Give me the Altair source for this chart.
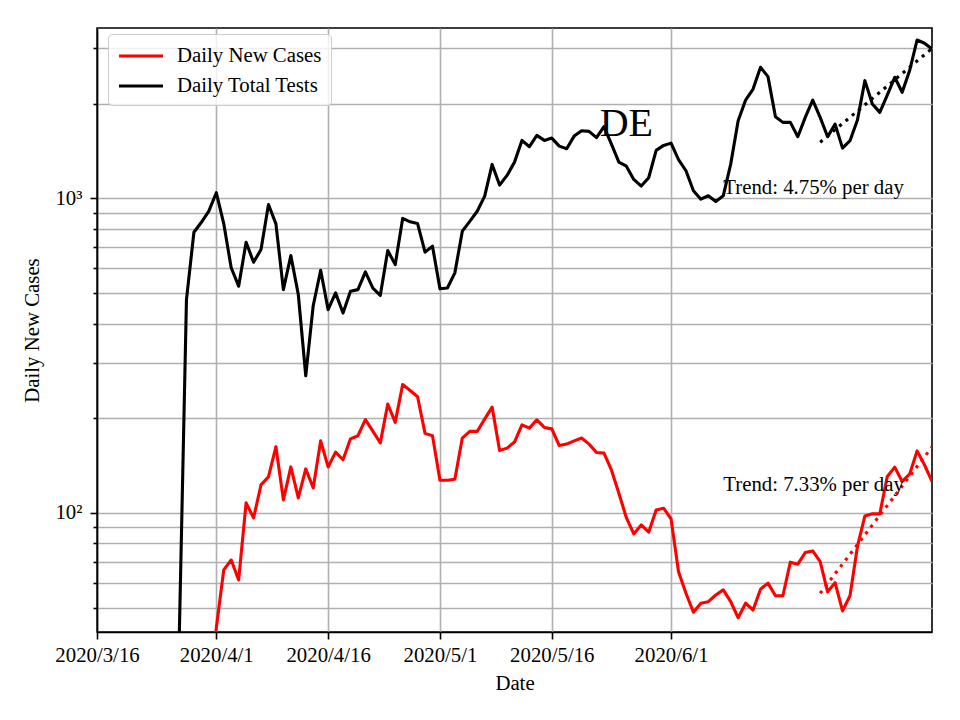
import altair as alt
import pandas as pd

# ---------------- data ----------------
tests_start = "2020-03-27"
tests_values = [
    37, 477, 781, 840, 911, 1043, 832, 602, 526, 726, 627, 688, 957, 830, 513,
    658, 495, 273, 456, 591, 443, 501, 432, 507, 513, 584, 519, 492, 683, 616,
    864, 843, 832, 675, 705, 516, 519, 580, 787, 846, 911, 1017, 1283, 1103,
    1184, 1305, 1530, 1461, 1587, 1530, 1556, 1467, 1440, 1579, 1643, 1635,
    1561, 1692, 1490, 1305, 1267, 1150, 1095, 1164, 1422, 1475, 1500, 1330,
    1225, 1058, 995, 1020, 978, 1020, 1286, 1768, 2056, 2229, 2614, 2441, 1820,
    1746, 1746, 1572, 1811, 2056, 1811, 1572, 1724, 1446, 1527, 1776, 2370,
    1997, 1879, 2133, 2429, 2176, 2551, 3192, 3116, 2988,
]

cases_start = "2020-03-31"
cases_values = [
    25, 43, 65.9, 70.8, 61.2, 107.6, 96.4, 122.8, 130.3, 162.4, 110, 140, 111.6,
    138, 120, 169.5, 140, 156, 147.6, 172, 176, 198, 182, 167, 222, 194, 256,
    245, 234, 179, 176, 127, 127, 128, 173, 181.6, 181.6, 198.7, 217, 158,
    160.7, 168, 190.6, 186, 197.7, 187, 185, 163.8, 165.5, 169.5, 173, 165.5,
    155.6, 154.9, 137, 115.5, 96.6, 85.7, 91.6, 86.8, 102.2, 103.5, 95.7, 65,
    55.5, 48.3, 51.6, 52.2, 54.8, 56.9, 52.2, 46.4, 51.6, 49.1, 57.2, 59.8,
    54.5, 54.5, 69.7, 68.7, 74.8, 75.7, 70, 56.1, 60, 48.8, 54.5, 78.2, 97.8,
    99.3, 99.3, 130.6, 139.8, 125.9, 132.8, 157.5, 142, 125.9,
]

series_names = ["Daily New Cases", "Daily Total Tests"]
series_colors = ["red", "black"]

trend_dates = ["2020-06-21", "2020-07-06"]
trend_cases = [55.5, 162]
trend_tests = [1509, 3000]

trend_labels = ["Trend: 7.33% per day", "Trend: 4.75% per day"]
trend_label_dates = ["2020-06-08", "2020-06-08"]
trend_label_values = [117.7, 1036]

title_text = ["DE"]
title_dates = ["2020-05-26"]
title_values = [1580]

x_ticks = ["2020-03-16", "2020-04-01", "2020-04-16", "2020-05-01", "2020-05-16", "2020-06-01"]
y_ticks = [50, 60, 70, 80, 90, 100, 200, 300, 400, 500, 600, 700, 800, 900,
           1000, 2000, 3000]
y_domain = [41.8, 3485]
x_domain = ["2020-03-16", "2020-07-06"]

FONT = "Liberation Serif"
FS = 20.8

# ---------------- tables ----------------
tests_dates = pd.date_range(tests_start, periods=len(tests_values), freq="D")
cases_dates = pd.date_range(cases_start, periods=len(cases_values), freq="D")
lines_df = pd.concat([
    pd.DataFrame({"date": cases_dates.strftime("%Y-%m-%d"), "value": cases_values,
                  "series": series_names[0]}),
    pd.DataFrame({"date": tests_dates.strftime("%Y-%m-%d"), "value": tests_values,
                  "series": series_names[1]}),
], ignore_index=True)

trend_df = pd.concat([
    pd.DataFrame({"date": trend_dates, "value": trend_cases, "series": series_names[0]}),
    pd.DataFrame({"date": trend_dates, "value": trend_tests, "series": series_names[1]}),
], ignore_index=True)

labels_df = pd.DataFrame({"date": trend_label_dates, "value": trend_label_values,
                          "label": trend_labels})
title_df = pd.DataFrame({"date": title_dates, "value": title_values, "label": title_text})


def dt(s):
    y, m, d = (int(p) for p in s.split("-"))
    return alt.DateTime(year=y, month=m, date=d, utc=True)


x_scale = alt.Scale(type="utc", domain=[dt(s) for s in x_domain], nice=False)
y_scale = alt.Scale(type="log", domain=y_domain, nice=False)

x_axis = alt.Axis(
    values=[dt(s) for s in x_ticks],
    labelExpr="utcFormat(datum.value, '%Y/%-m/%-d')",
    title="Date",
    tickSize=7,
    labelPadding=6.5,
    titlePadding=8,
    labelFlush=False,
    labelOverlap=False,
)
y_axis = alt.Axis(
    values=y_ticks,
    labelExpr="datum.value == 100 ? '10²' : datum.value == 1000 ? '10³' : ''",
    title="Daily New Cases",
    tickSize={"condition": {"test": "datum.value == 100 || datum.value == 1000", "value": 7},
              "value": 4},
    labelPadding=8,
    titlePadding=12,
    labelOverlap=False,
)

X = alt.X("date:T", scale=x_scale, axis=x_axis)
Y = alt.Y("value:Q", scale=y_scale, axis=y_axis)

lines = alt.Chart(lines_df).mark_line(strokeWidth=3.1, strokeJoin="round", clip=True).encode(
    x=X,
    y=Y,
    color=alt.Color(
        "series:N",
        scale=alt.Scale(domain=series_names, range=series_colors),
        sort=series_names,
        legend=alt.Legend(
            title=None,
            orient="none",
            legendX=11,
            legendY=6,
            symbolType="M-1,0H3",
            symbolSize=484,
            symbolStrokeWidth=3.1,
            labelOffset=34,
            rowPadding=7,
            padding=9,
            strokeColor="#cccccc",
            fillColor="rgba(255,255,255,0.8)",
            cornerRadius=4,
            labelFont=FONT,
            labelFontSize=FS,
            labelColor="black",
        ),
    ),
)

trend_red = alt.Chart(trend_df).transform_filter(
    alt.datum.series == series_names[0]
).mark_line(strokeWidth=3.1, strokeDash=[3.1, 5.2], strokeCap="butt", clip=True,
            color=series_colors[0]).encode(x="date:T", y="value:Q")

trend_black = alt.Chart(trend_df).transform_filter(
    alt.datum.series == series_names[1]
).mark_line(strokeWidth=3.1, strokeDash=[3.1, 5.2], strokeCap="butt", clip=True,
            color=series_colors[1]).encode(x="date:T", y="value:Q")

trend_text = alt.Chart(labels_df).mark_text(
    font=FONT, fontSize=FS, align="left", baseline="alphabetic", color="black"
).encode(x="date:T", y="value:Q", text="label:N")

title_mark = alt.Chart(title_df).mark_text(
    font=FONT, fontSize=40, align="center", baseline="alphabetic", color="black"
).encode(x="date:T", y="value:Q", text="label:N")

chart = alt.layer(lines, trend_red, trend_black, trend_text, title_mark).properties(
    width=835,
    height=604,
    autosize=alt.AutoSizeParams(type="none"),
    padding={"left": 89, "top": 20, "right": 20, "bottom": 80},
    background="white",
).configure_view(
    stroke="black", strokeWidth=1.6
).configure_axis(
    labelFont=FONT,
    labelFontSize=FS,
    labelColor="black",
    titleFont=FONT,
    titleFontSize=FS,
    titleFontWeight="normal",
    titleColor="black",
    tickColor="black",
    tickWidth=1.6,
    domainColor="black",
    domainWidth=1.6,
    grid=True,
    gridColor="#b0b0b0",
    gridWidth=1.6,
)

chart.save("out.html", embed_options={"renderer": "svg", "actions": False})
